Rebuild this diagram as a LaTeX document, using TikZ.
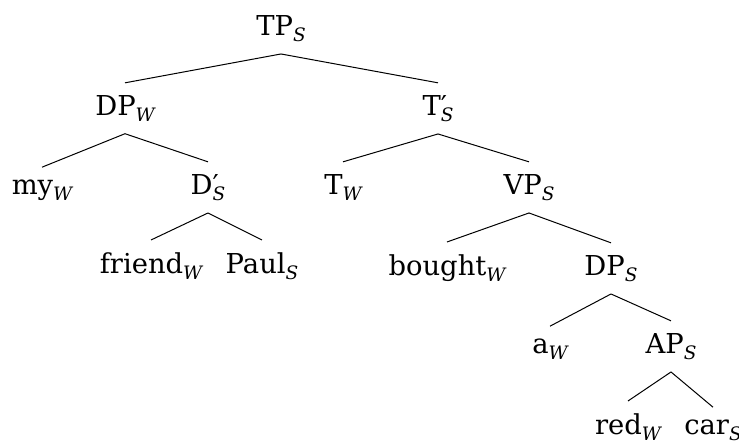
\documentclass[tikz,border=0pt]{standalone}
\usepackage{fontspec}
\setmainfont{DejaVu Serif}
\newcommand{\lsub}[1]{\raisebox{-6.5pt}{\fontsize{18.5}{20}\selectfont\itshape #1}}
\newcommand{\lprime}{\rlap{′}}
\tikzset{
  lab/.style={font=\fontsize{27.4}{32}\selectfont, anchor=base, inner xsep=0pt, inner ysep=12pt},
  branch/.style={draw=black, line width=1pt}
}
\begin{document}
\begin{tikzpicture}[x=1pt,y=-1pt]
\useasboundingbox (0,0) rectangle (739,440);
\node[lab] (tp) at (281,35) {TP\lsub{S}};
\node[lab] (dpw) at (125,115) {DP\lsub{W}};
\node[lab] (tbar) at (438,115) {T\lprime\lsub{S}};
\node[lab] (my) at (42,194) {my\lsub{W}};
\node[lab] (dbar) at (208,194) {D\lprime\lsub{S}};
\node[lab] (tw) at (343,194) {T\lsub{W}};
\node[lab] (vp) at (529,194) {VP\lsub{S}};
\node[lab] (friend) at (151,273) {friend\lsub{W}};
\node[lab] (paul) at (262,273) {Paul\lsub{S}};
\node[lab] (bought) at (447,275) {bought\lsub{W}};
\node[lab] (dps) at (611,275) {DP\lsub{S}};
\node[lab] (a) at (550,353) {a\lsub{W}};
\node[lab] (ap) at (671,353) {AP\lsub{S}};
\node[lab] (red) at (628,434) {red\lsub{W}};
\node[lab] (car) at (713,434) {car\lsub{S}};
\draw[branch] (tp.south) -- (dpw.north);
\draw[branch] (tp.south) -- (tbar.north);
\draw[branch] (dpw.south) -- (my.north);
\draw[branch] (dpw.south) -- (dbar.north);
\draw[branch] (dbar.south) -- (friend.north);
\draw[branch] (dbar.south) -- (paul.north);
\draw[branch] (tbar.south) -- (tw.north);
\draw[branch] (tbar.south) -- (vp.north);
\draw[branch] (vp.south) -- (bought.north);
\draw[branch] (vp.south) -- (dps.north);
\draw[branch] (dps.south) -- (a.north);
\draw[branch] (dps.south) -- (ap.north);
\draw[branch] (ap.south) -- (red.north);
\draw[branch] (ap.south) -- (car.north);
\end{tikzpicture}
\end{document}
